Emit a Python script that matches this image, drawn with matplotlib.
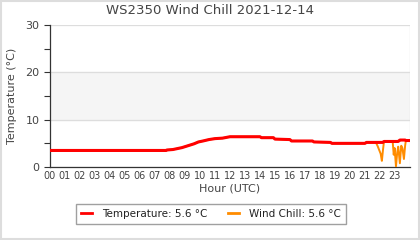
import matplotlib
matplotlib.use("Agg")
import matplotlib.pyplot as plt
from matplotlib.lines import Line2D
from matplotlib.patches import Rectangle

title = "WS2350 Wind Chill 2021-12-14"
hours = [0.0, 7.75, 7.8, 8.2, 8.5, 8.8, 9.0, 9.3, 9.6, 9.9, 10.2, 10.6, 11.0, 11.5, 12.0,
         14.0, 14.1, 14.9, 15.0, 16.0, 16.1, 17.5, 17.6, 18.7, 18.8, 21.0, 21.1, 21.73,
         21.85, 21.95, 22.05, 22.13, 22.2, 22.27, 22.85, 22.92, 22.98, 23.07, 23.15, 23.22,
         23.33, 23.42, 23.5, 23.6, 23.68, 23.73, 24.0]
temperature = [3.5, 3.5, 3.6, 3.7, 3.9, 4.1, 4.3, 4.6, 4.9, 5.3, 5.5, 5.8, 6.0, 6.1, 6.4,
               6.4, 6.2, 6.2, 5.9, 5.8, 5.5, 5.5, 5.3, 5.2, 5.0, 5.0, 5.2, 5.2,
               5.2, 5.2, 5.2, 5.2, 5.2, 5.4, 5.4, 5.4, 5.4, 5.4, 5.4, 5.4,
               5.7, 5.7, 5.7, 5.7, 5.7, 5.6, 5.6]
wind_chill = [3.5, 3.5, 3.6, 3.7, 3.9, 4.1, 4.3, 4.6, 4.9, 5.3, 5.5, 5.8, 6.0, 6.1, 6.4,
              6.4, 6.2, 6.2, 5.9, 5.8, 5.5, 5.5, 5.3, 5.2, 5.0, 5.0, 5.2, 5.2,
              4.4, 3.6, 2.8, 1.3, 3.5, 5.4, 5.4, 2.6, 4.0, 0.1, 3.0, 4.3,
              0.8, 4.5, 4.0, 1.7, 4.5, 5.6, 5.6]
tick_labels = ["%02d" % h for h in range(24)]
legend_labels = ["Temperature: 5.6 °C", "Wind Chill: 5.6 °C"]

plt.rcParams['font.family'] = ['DejaVu Sans']
fig = plt.figure(figsize=(4.2, 2.4), dpi=100)
fig.patch.set_facecolor('white')
fig.add_artist(Rectangle((0.002, 0.004), 0.996, 0.992, transform=fig.transFigure,
                         fill=False, edgecolor='#dddddd', linewidth=1.5))
ax = fig.add_axes([0.119, 0.304, 0.857, 0.592])
ax.axhspan(10, 20, color='#f5f5f5', zorder=0)
ax.set_xlim(0, 24)
ax.set_ylim(0, 30)
ax.set_xticks(range(24))
ax.set_xticklabels(tick_labels)
ax.set_xticks(range(25), minor=True)
ax.set_yticks([0, 10, 20, 30])
ax.set_yticks([5, 15, 25], minor=True)
ax.grid(True, which='minor', axis='x', color='#dddddd', linewidth=0.9, zorder=1)
ax.grid(True, which='major', axis='y', color='#dddddd', linewidth=0.9, zorder=1)
ax.tick_params(axis='x', which='both', length=0, labelsize=7, colors='#444444', pad=3)
ax.tick_params(axis='y', which='major', length=4, width=0.8, labelsize=8, colors='#333333', labelcolor='#444444')
ax.tick_params(axis='y', which='minor', length=4, width=0.8, colors='#333333')
for s in ['top', 'right']:
    ax.spines[s].set_visible(False)
for s in ['left', 'bottom']:
    ax.spines[s].set_color('#333333')
    ax.spines[s].set_linewidth(0.9)

ax.plot(hours, wind_chill, color='#ff8c00', linewidth=1.4, zorder=3)
ax.plot(hours, temperature, color='#ff0000', linewidth=2.2, zorder=4)

fig.text(0.5, 1 - 11/240, title, fontsize=9.5, color='#444444', ha='center', va='center')
ax.set_ylabel("Temperature (°C)", fontsize=8, color='#444444', labelpad=6)
ax.set_xlabel("Hour (UTC)", fontsize=8, color='#444444', labelpad=2)

handles = [Line2D([], [], color='#ff0000', linewidth=2),
           Line2D([], [], color='#ff8c00', linewidth=2)]
leg = fig.legend(handles, legend_labels, loc='center', bbox_to_anchor=(211/420, 1 - 214/240),
                 ncol=2, fontsize=7.5, frameon=True, fancybox=False, handlelength=1.0,
                 columnspacing=2.0, handletextpad=1.0, borderpad=0.45)
leg.get_frame().set_edgecolor('#888888')
leg.get_frame().set_linewidth(1.0)
for t in leg.get_texts():
    t.set_color('#222222')

fig.savefig("out.png", dpi=100)
